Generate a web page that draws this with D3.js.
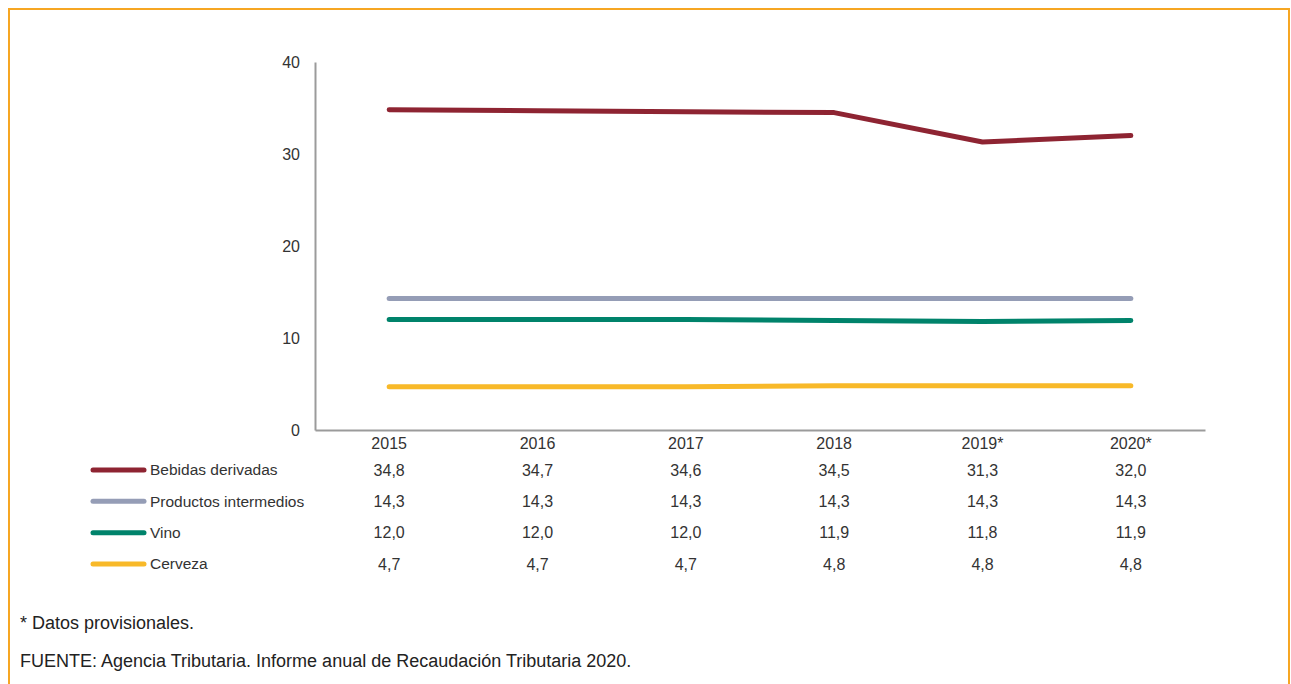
<!DOCTYPE html>
<html>
<head>
<meta charset="utf-8">
<script src="https://cdn.jsdelivr.net/npm/d3@7"></script>
<style>
  html, body { margin: 0; padding: 0; background: #fff; }
  svg { display: block; font-family: "Liberation Sans", Arial, sans-serif; }
</style>
</head>
<body>
<div class="chart"></div>
<script>
const years = ['2015', '2016', '2017', '2018', '2019*', '2020*'];
const seriesNames = ['Bebidas derivadas', 'Productos intermedios', 'Vino', 'Cerveza'];
const bebidas = [34.8, 34.7, 34.6, 34.5, 31.3, 32.0];
const productos = [14.3, 14.3, 14.3, 14.3, 14.3, 14.3];
const vino = [12.0, 12.0, 12.0, 11.9, 11.8, 11.9];
const cerveza = [4.7, 4.7, 4.7, 4.8, 4.8, 4.8];
const colors = ['#8e2432', '#959db6', '#00836b', '#f8b929'];
const yTicks = [0, 10, 20, 30, 40];
const note = '* Datos provisionales.';
const source = 'FUENTE: Agencia Tributaria. Informe anual de Recaudación Tributaria 2020.';

const series = [bebidas, productos, vino, cerveza].map((values, i) => ({
  name: seriesNames[i], color: colors[i], values
}));

const width = 1291, height = 684;
const plot = {left: 315, right: 1205, top: 62, bottom: 430};

const svg = d3.select('.chart').append('svg')
  .attr('width', width)
  .attr('height', height);

// orange frame (bottom edge runs off the picture)
svg.append('path')
  .attr('d', `M9,${height + 5}V9H1289V${height + 5}`)
  .attr('fill', 'none')
  .attr('stroke', '#f6a623')
  .attr('stroke-width', 2);

const x = d3.scaleBand().domain(years).range([plot.left, plot.right]);
const y = d3.scaleLinear().domain([0, 40]).range([plot.bottom, plot.top]);
const cx = d => x(d) + x.bandwidth() / 2;

// axes
const yAxis = svg.append('g')
  .attr('transform', `translate(${plot.left},0)`)
  .call(d3.axisLeft(y).tickValues(yTicks).tickSize(0).tickPadding(15));
yAxis.select('.domain').attr('stroke', '#9b9b9b').attr('stroke-width', 2);
yAxis.selectAll('text').attr('font-size', 16).attr('fill', '#333')
  .attr('font-family', 'inherit');

const xAxis = svg.append('g')
  .attr('transform', `translate(0,${plot.bottom})`)
  .call(d3.axisBottom(x).tickSize(0).tickPadding(8));
xAxis.select('.domain').attr('stroke', '#9b9b9b').attr('stroke-width', 2);
xAxis.selectAll('text').attr('font-size', 16).attr('fill', '#333')
  .attr('font-family', 'inherit');

// lines
const line = d3.line()
  .x((d, i) => cx(years[i]))
  .y(d => y(d));

svg.selectAll('.series')
  .data(series)
  .enter()
  .append('path')
    .attr('class', 'series')
    .attr('d', d => line(d.values))
    .attr('fill', 'none')
    .attr('stroke', d => d.color)
    .attr('stroke-width', 5)
    .attr('stroke-linecap', 'round')
    .attr('stroke-linejoin', 'round');

// data table with legend
const rowY = d3.scalePoint().domain(seriesNames).range([470, 564]);

const rows = svg.selectAll('.row')
  .data(series)
  .enter()
  .append('g')
    .attr('class', 'row')
    .attr('transform', d => `translate(0,${rowY(d.name)})`);

rows.append('line')
  .attr('x1', 93).attr('x2', 144)
  .attr('stroke', d => d.color)
  .attr('stroke-width', 5)
  .attr('stroke-linecap', 'round');

rows.append('text')
  .attr('x', 150)
  .attr('dy', '0.35em')
  .attr('font-size', 15.5)
  .attr('fill', '#333')
  .text(d => d.name);

rows.selectAll('.val')
  .data(d => d.values)
  .enter()
  .append('text')
    .attr('class', 'val')
    .attr('x', (d, i) => cx(years[i]))
    .attr('dy', '0.35em')
    .attr('text-anchor', 'middle')
    .attr('font-size', 16)
    .attr('fill', '#333')
    .text(d => d3.format('.1f')(d).replace('.', ','));

// footnotes
svg.append('text')
  .attr('x', 20).attr('y', 629)
  .attr('font-size', 18).attr('fill', '#222')
  .text(note);

svg.append('text')
  .attr('x', 20).attr('y', 667)
  .attr('font-size', 18).attr('fill', '#222')
  .text(source);
</script>
</body>
</html>
